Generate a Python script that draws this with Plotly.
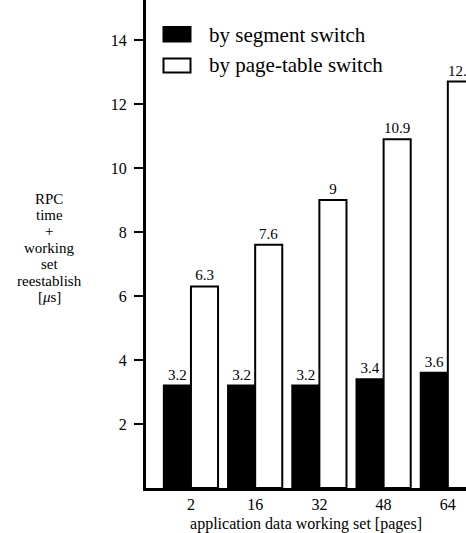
import plotly.graph_objects as go

categories = ["2", "16", "32", "48", "64"]
segment_switch = [3.2, 3.2, 3.2, 3.4, 3.6]
page_table_switch = [6.3, 7.6, 9, 10.9, 12.7]
y_ticks = [2, 4, 6, 8, 10, 12, 14]
legend_labels = ["by segment switch", "by page-table switch"]
y_title_lines = ["RPC", "time", "+", "working", "set", "reestablish", "[<i>μ</i>s]"]
x_title = "application data working set [pages]"

FONT = "Liberation Serif"
W, H = 466, 533
ML, MR, MT, MB = 146, 0, 0, 45
PW, PH = W - ML - MR, H - MT - MB

def px(x):
    return (x - ML) / PW

def py(y):
    return (MT + PH - y) / PH

fig = go.Figure()
fig.add_trace(go.Bar(
    x=categories, y=segment_switch, name=legend_labels[0],
    marker=dict(color="black", line=dict(color="black", width=2)),
    text=[f"{v:g}" for v in segment_switch], textposition="outside",
    textfont=dict(family=FONT, size=15, color="black"),
    outsidetextfont=dict(family=FONT, size=15, color="black"), cliponaxis=True,
))
fig.add_trace(go.Bar(
    x=categories, y=page_table_switch, name=legend_labels[1],
    marker=dict(color="white", line=dict(color="black", width=2)),
    text=[f"{v:g}" for v in page_table_switch], textposition="outside",
    textfont=dict(family=FONT, size=15, color="black"),
    outsidetextfont=dict(family=FONT, size=15, color="black"), cliponaxis=True,
))

shapes = []
annotations = []
# legend
for fill, label, ytop, ybot, ytext in [
        ("black", legend_labels[0], 27, 41.5, 34.5),
        ("white", legend_labels[1], 58.5, 72.5, 64.5)]:
    shapes.append(dict(type="rect", xref="paper", yref="paper",
                       x0=px(163.5), x1=px(190.5), y0=py(ybot), y1=py(ytop),
                       fillcolor=fill, line=dict(color="black", width=2)))
    annotations.append(dict(text=label, xref="paper", yref="paper",
                            x=px(207), y=py(ytext), xanchor="left", yanchor="middle",
                            showarrow=False, font=dict(family=FONT, size=21, color="black")))
# y title lines
y_positions = [198.5, 215, 231, 247.5, 264, 280.5, 297]
for t, yy in zip(y_title_lines, y_positions):
    annotations.append(dict(text=t, xref="paper", yref="paper", x=px(49), y=py(yy),
                            xanchor="center", yanchor="middle", showarrow=False,
                            font=dict(family=FONT, size=15, color="black")))

fig.update_layout(
    width=W, height=H,
    margin=dict(l=ML, r=MR, t=MT, b=MB, pad=0),
    paper_bgcolor="white", plot_bgcolor="white",
    barmode="group", bargap=0.156, bargroupgap=0,
    showlegend=False,
    font=dict(family=FONT, color="black"),
    shapes=shapes, annotations=annotations,
)
fig.update_xaxes(
    type="category", range=[-0.70, 4.283],
    showline=True, linecolor="black", linewidth=3, mirror=False,
    ticks="", showgrid=False, zeroline=False,
    tickfont=dict(family=FONT, size=16, color="black"),
    title=dict(text=x_title, font=dict(family=FONT, size=16, color="black"), standoff=6),
)
fig.update_yaxes(
    range=[0, 15.25], tickvals=y_ticks,
    showline=True, linecolor="black", linewidth=3,
    ticks="outside", ticklen=9, tickwidth=2, tickcolor="black",
    ticklabelstandoff=4,
    showgrid=False, zeroline=False,
    tickfont=dict(family=FONT, size=16, color="black"),
)

fig.write_html(
    "out.html",
    config={"displayModeBar": False},
    post_script="document.body.style.margin='0';document.body.style.overflow='hidden';",
)
